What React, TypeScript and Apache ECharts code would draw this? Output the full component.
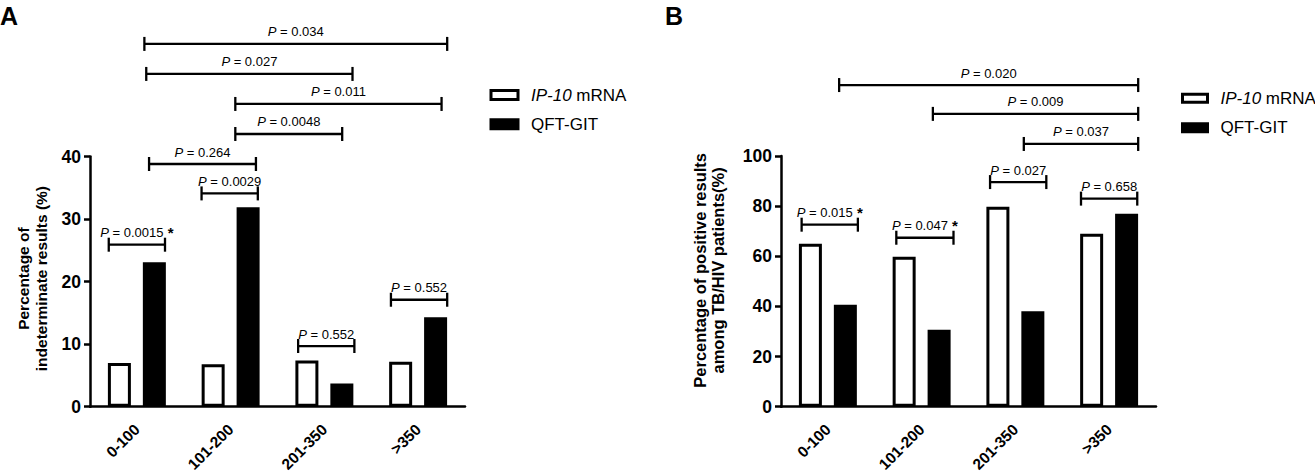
import React, { useEffect, useRef } from 'react';
import * as echarts from 'echarts';

const CATEGORIES = ['0-100', '101-200', '201-350', '>350'];
const NAME_IP10 = 'IP-10 mRNA';
const NAME_QFT = 'QFT-GIT';

const A_IP10 = [7.0, 6.8, 7.4, 7.2];
const A_QFT = [23.1, 31.9, 3.7, 14.3];
const B_IP10 = [65.0, 59.8, 79.8, 69.0];
const B_QFT = [40.7, 30.7, 38.1, 77.0];

const A_TICKS = [0, 10, 20, 30, 40];
const B_TICKS = [0, 20, 40, 60, 80, 100];

// [from (category units), to (category units), y (data units), p value, asterisk]
const A_BRACKETS: [number, number, number, string, boolean][] = [
  [0.08, 3.31, 58.0, '0.034', false],
  [0.1, 2.3, 53.2, '0.027', false],
  [1.05, 3.25, 48.4, '0.011', false],
  [1.05, 2.19, 43.6, '0.0048', false],
  [0.13, 1.27, 38.8, '0.264', false],
  [0.69, 1.29, 34.1, '0.0029', false],
  [-0.3, 0.3, 25.9, '0.0015', true],
  [1.72, 2.32, 9.7, '0.552', false],
  [2.71, 3.31, 17.1, '0.552', false],
];
const B_BRACKETS: [number, number, number, string, boolean][] = [
  [0.12, 3.31, 128.3, '0.020', false],
  [1.12, 3.31, 116.8, '0.009', false],
  [2.09, 3.31, 104.8, '0.037', false],
  [1.73, 2.33, 89.6, '0.027', false],
  [2.7, 3.3, 83.0, '0.658', false],
  [-0.28, 0.32, 72.6, '0.015', true],
  [0.73, 1.34, 67.4, '0.047', true],
];

const FONT = 'Liberation Sans, Arial, Helvetica, sans-serif';

function bracketRender(list: [number, number, number, string, boolean][]) {
  return (params: any, api: any) => {
    const b = list[params.dataIndex];
    const band = api.size([1, 0])[0];
    const y = api.coord([0, b[2]])[1];
    const px = (v: number) => {
      const base = Math.round(v);
      return api.coord([base, b[2]])[0] + (v - base) * band;
    };
    const x1 = px(b[0]);
    const x2 = px(b[1]);
    const ls = { stroke: '#000', lineWidth: 2.3 };
    const text = '{i|P}{n| = ' + b[3] + '}' + (b[4] ? '{s| *}' : '');
    return {
      type: 'group',
      children: [
        { type: 'line', shape: { x1, y1: y, x2, y2: y }, style: ls },
        { type: 'line', shape: { x1, y1: y - 7, x2: x1, y2: y + 7 }, style: ls },
        { type: 'line', shape: { x1: x2, y1: y - 7, x2, y2: y + 7 }, style: ls },
        {
          type: 'text',
          x: (x1 + x2) / 2,
          y: y - 12,
          style: {
            text,
            align: 'center',
            verticalAlign: 'middle',
            fill: '#000',
            fontSize: 13,
            fontFamily: FONT,
            rich: {
              i: { fontSize: 13, fontFamily: FONT, fontStyle: 'italic', fill: '#000' },
              n: { fontSize: 13, fontFamily: FONT, fill: '#000' },
              s: { fontSize: 15, fontFamily: FONT, fill: '#000', fontWeight: 'bold' },
            },
          },
        },
      ],
    };
  };
}

function xAxisCfg(gridIndex: number) {
  return {
    type: 'category',
    gridIndex,
    data: CATEGORIES,
    axisLine: { lineStyle: { color: '#000', width: 2.5 } },
    axisTick: { alignWithLabel: true, length: 6, lineStyle: { color: '#000', width: 2.5 } },
    axisLabel: {
      rotate: 45,
      margin: 20,
      color: '#000',
      fontSize: 15.5,
      fontWeight: 'bold',
      fontFamily: FONT,
      interval: 0,
    },
  };
}

function yAxisCfg(gridIndex: number, ticks: number[], name: string, fontSize: number, nameGap: number, shift: number) {
  return {
    type: 'value',
    gridIndex,
    min: ticks[0],
    max: ticks[ticks.length - 1],
    interval: ticks[1] - ticks[0],
    name,
    nameLocation: 'middle',
    nameRotate: 90,
    nameGap,
    nameMoveOverlap: false,
    nameTruncate: { maxWidth: 1000 },
    nameTextStyle: {
      color: '#000',
      fontSize,
      fontWeight: 'bold',
      fontFamily: FONT,
      lineHeight: 18,
      align: 'center',
      padding: [0, 0, 0, shift],
    },
    splitLine: { show: false },
    axisLine: { show: true, lineStyle: { color: '#000', width: 2.5 } },
    axisTick: { show: true, length: 6, lineStyle: { color: '#000', width: 2.5 } },
    axisLabel: { color: '#000', fontSize: 17.5, fontWeight: 'bold', fontFamily: FONT, margin: 9 },
  };
}

function barSeries(name: string, data: number[], idx: number, white: boolean) {
  return {
    type: 'bar',
    name,
    xAxisIndex: idx,
    yAxisIndex: idx,
    data,
    barWidth: 23,
    barGap: '52%',
    itemStyle: { color: white ? '#fff' : '#000', borderColor: '#000', borderWidth: 3 },
  };
}

function legendCfg(left: number, top: number, w: number, h: number, gap: number, pad: number) {
  return {
    orient: 'vertical',
    left,
    top,
    icon: 'rect',
    itemWidth: w,
    itemHeight: h,
    itemGap: gap,
    data: [NAME_IP10, NAME_QFT],
    itemStyle: { borderColor: '#000', borderWidth: 3 },
    formatter: (n: string) => (n === NAME_IP10 ? '{i|IP-10}{n| mRNA}' : '{n|' + n + '}'),
    textStyle: {
      color: '#000',
      fontSize: 17,
      fontFamily: FONT,
      lineHeight: 18,
      padding: [0, 0, 0, pad],
      rich: {
        i: { fontSize: 17, fontFamily: FONT, fontStyle: 'italic', color: '#000' },
        n: { fontSize: 17, fontFamily: FONT, color: '#000' },
      },
    },
    selectedMode: false,
  };
}

export default function App() {
  const ref = useRef<HTMLDivElement>(null);
  useEffect(() => {
    document.body.style.margin = '0';
    const chart = echarts.init(ref.current!, null, { renderer: 'svg' });
    chart.setOption({
      animation: false,
      backgroundColor: '#fff',
      textStyle: { fontFamily: FONT },
      grid: [
        { left: 90, top: 156.5, width: 375, height: 250.2, outerBoundsMode: 'none', containLabel: false },
        { left: 781, top: 156, width: 375, height: 250.7, outerBoundsMode: 'none', containLabel: false },
      ],
      xAxis: [xAxisCfg(0), xAxisCfg(1)],
      yAxis: [
        yAxisCfg(0, A_TICKS, 'Percentage of\nindeterminate results (%)', 15.5, 40, 6),
        yAxisCfg(1, B_TICKS, 'Percentage of positive results\namong TB/HIV patients(%)', 16.5, 54, 22),
      ],
      legend: [
        legendCfg(484.5, 81, 27, 9, 11.3, 8),
        legendCfg(1176, 84.3, 25, 8, 11.4, 8),
      ],
      graphic: [
        { type: 'text', left: 0, top: 3, style: { text: 'A', fontSize: 25, fontWeight: 'bold', fontFamily: FONT, fill: '#000' } },
        { type: 'text', left: 665, top: 3, style: { text: 'B', fontSize: 25, fontWeight: 'bold', fontFamily: FONT, fill: '#000' } },
      ],
      series: [
        barSeries(NAME_IP10, A_IP10, 0, true),
        barSeries(NAME_QFT, A_QFT, 0, false),
        barSeries(NAME_IP10, B_IP10, 1, true),
        barSeries(NAME_QFT, B_QFT, 1, false),
        {
          type: 'custom',
          name: 'bracketsA',
          xAxisIndex: 0,
          yAxisIndex: 0,
          coordinateSystem: 'cartesian2d',
          clip: false,
          silent: true,
          z: 10,
          encode: { x: 0, y: 1 },
          data: A_BRACKETS.map((b) => [Math.round(b[0]), b[2]]),
          renderItem: bracketRender(A_BRACKETS),
        },
        {
          type: 'custom',
          name: 'bracketsB',
          xAxisIndex: 1,
          yAxisIndex: 1,
          coordinateSystem: 'cartesian2d',
          clip: false,
          silent: true,
          z: 10,
          encode: { x: 0, y: 1 },
          data: B_BRACKETS.map((b) => [Math.round(b[0]), b[2]]),
          renderItem: bracketRender(B_BRACKETS),
        },
      ],
    });
    return () => chart.dispose();
  }, []);
  return <div ref={ref} style={{ width: 1315, height: 474 }} />;
}
